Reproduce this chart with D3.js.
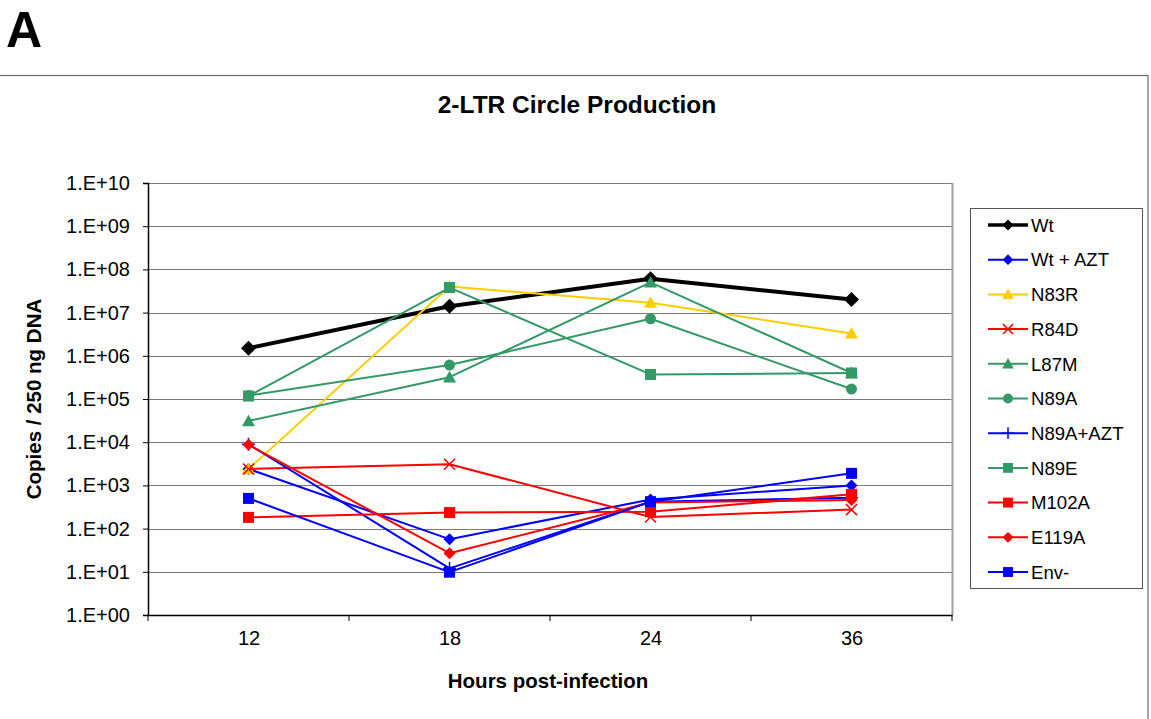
<!DOCTYPE html>
<html>
<head>
<meta charset="utf-8">
<script src="https://cdn.jsdelivr.net/npm/d3@7"></script>
<style>
  body { margin: 0; background: #fff; }
  text { font-family: "Liberation Sans", Arial, sans-serif; }
</style>
</head>
<body>
<div id="chart"></div>
<script>
// hours post-infection (categories)
const hours = ["12", "18", "24", "36"];

// copies / 250 ng DNA
const wt      = [1.5e6, 1.4e7, 6.1e7, 2.0e7];
const wtAzt   = [2.4e3, 57, 470, 1.0e3];
const n83r    = [2.4e3, 4.0e7, 1.7e7, 3.3e6];
const r84d    = [2.4e3, 3.1e3, 185, 275];
const l87m    = [3.1e4, 3.2e5, 5.0e7, 4.0e5];
const n89a    = [1.2e5, 6.1e5, 7.2e6, 1.7e5];
const n89aAzt = [9.0e3, 12, 420, 520];
const n89e    = [1.17e5, 3.8e7, 3.7e5, 4.0e5];
const m102a   = [182, 235, 245, 620];
const e119a   = [8.7e3, 27, 400, 460];
const envNeg  = [500, 9.8, 420, 1.9e3];

const yTicks = [1, 10, 1e2, 1e3, 1e4, 1e5, 1e6, 1e7, 1e8, 1e9, 1e10];

const series = [
  { name: "Wt",        values: wt,      color: "#000000", marker: "diamond", width: 4, size: 7.5 },
  { name: "Wt + AZT",  values: wtAzt,   color: "#0000ff", marker: "diamond", width: 2, size: 6 },
  { name: "N83R",      values: n83r,    color: "#ffcc00", marker: "triangle", width: 2, size: 6.5 },
  { name: "R84D",      values: r84d,    color: "#ff0000", marker: "cross", width: 2, size: 5.5 },
  { name: "L87M",      values: l87m,    color: "#339966", marker: "triangle", width: 2, size: 6.5 },
  { name: "N89A",      values: n89a,    color: "#339966", marker: "circle", width: 2, size: 5.5 },
  { name: "N89A+AZT",  values: n89aAzt, color: "#0000ff", marker: "plus", width: 2, size: 6.5 },
  { name: "N89E",      values: n89e,    color: "#339966", marker: "square", width: 2, size: 5.5 },
  { name: "M102A",     values: m102a,   color: "#ff0000", marker: "square", width: 2, size: 5.5 },
  { name: "E119A",     values: e119a,   color: "#ff0000", marker: "diamond", width: 2, size: 6 },
  { name: "Env-",      values: envNeg,  color: "#0000ff", marker: "square", width: 2, size: 5.5 }
];

const W = 1151, H = 719;
const plot = { left: 148, right: 952, top: 183, bottom: 615 };

const svg = d3.select("#chart")
  .append("svg")
  .attr("width", W)
  .attr("height", H);

// panel letter
svg.append("text")
  .attr("x", 6)
  .attr("y", 47)
  .attr("font-size", 50)
  .attr("font-weight", "bold")
  .text("A");

// chart frame
svg.append("rect")
  .attr("x", -2)
  .attr("y", 75.5)
  .attr("width", 1150)
  .attr("height", 700)
  .attr("fill", "none")
  .attr("stroke", "#6b6b6b")
  .attr("stroke-width", 1.2);

svg.append("text")
  .attr("x", 577)
  .attr("y", 113)
  .attr("text-anchor", "middle")
  .attr("font-size", 24.5)
  .attr("font-weight", "bold")
  .text("2-LTR Circle Production");

const xScale = d3.scalePoint()
  .domain(hours)
  .range([plot.left, plot.right])
  .padding(0.5);

const yScale = d3.scaleLog()
  .domain([1, 1e10])
  .range([plot.bottom, plot.top]);

const fmt = d => "1.E+" + String(Math.round(Math.log10(d))).padStart(2, "0");

// gridlines
svg.append("g")
  .selectAll("line")
  .data(yTicks)
  .enter().append("line")
  .attr("x1", plot.left)
  .attr("x2", plot.right)
  .attr("y1", d => Math.round(yScale(d)) + 0.5)
  .attr("y2", d => Math.round(yScale(d)) + 0.5)
  .attr("stroke", "#7a7a7a")
  .attr("stroke-width", 1);

// plot area right border (gray)
svg.append("line")
  .attr("x1", plot.right + 0.5).attr("x2", plot.right + 0.5)
  .attr("y1", plot.top).attr("y2", plot.bottom)
  .attr("stroke", "#a0a0a0")
  .attr("stroke-width", 2);

// y axis
const yAxis = svg.append("g")
  .attr("transform", `translate(${plot.left},0)`)
  .call(d3.axisLeft(yScale).tickValues(yTicks).tickFormat(fmt).tickSize(5).tickPadding(13));
yAxis.select(".domain").attr("stroke", "#000").attr("stroke-width", 1.5);
yAxis.selectAll(".tick line").attr("stroke", "#000");
yAxis.selectAll(".tick text")
  .attr("font-size", 20)
  .attr("font-family", "Liberation Sans, Arial, sans-serif")
  .attr("fill", "#000");

// x axis: labels centred in each band, tick marks on band edges
const step = xScale.step();
const xAxis = svg.append("g")
  .attr("transform", `translate(0,${plot.bottom})`)
  .call(d3.axisBottom(xScale).tickSize(0).tickPadding(16));
xAxis.select(".domain").attr("stroke", "#000").attr("stroke-width", 1.5);
xAxis.selectAll(".tick text")
  .attr("font-size", 20)
  .attr("font-family", "Liberation Sans, Arial, sans-serif")
  .attr("fill", "#000");
xAxis.selectAll(".edge")
  .data(hours.concat(["end"]))
  .enter().append("line")
  .attr("class", "edge")
  .attr("x1", (d, i) => plot.left + i * step)
  .attr("x2", (d, i) => plot.left + i * step)
  .attr("y1", 0)
  .attr("y2", 6)
  .attr("stroke", "#000");

// axis titles
svg.append("text")
  .attr("transform", `translate(41,${(plot.top + plot.bottom) / 2}) rotate(-90)`)
  .attr("text-anchor", "middle")
  .attr("font-size", 20.5)
  .attr("font-weight", "bold")
  .text("Copies / 250 ng DNA");

svg.append("text")
  .attr("x", 548)
  .attr("y", 688)
  .attr("text-anchor", "middle")
  .attr("font-size", 20.5)
  .attr("font-weight", "bold")
  .text("Hours post-infection");

// marker drawing
function drawMarker(g, type, color, r) {
  if (type === "diamond") {
    g.append("path").attr("d", `M0,${-r}L${r},0L0,${r}L${-r},0Z`).attr("fill", color);
  } else if (type === "triangle") {
    g.append("path").attr("d", `M0,${-r}L${r},${r * 0.8}L${-r},${r * 0.8}Z`).attr("fill", color);
  } else if (type === "square") {
    g.append("rect").attr("x", -r).attr("y", -r).attr("width", 2 * r).attr("height", 2 * r).attr("fill", color);
  } else if (type === "circle") {
    g.append("circle").attr("r", r).attr("fill", color);
  } else if (type === "cross") {
    g.append("path").attr("d", `M${-r},${-r}L${r},${r}M${-r},${r}L${r},${-r}`)
      .attr("stroke", color).attr("stroke-width", 1.5).attr("fill", "none");
  } else if (type === "plus") {
    g.append("path").attr("d", `M${-r},0L${r},0M0,${-r}L0,${r}`)
      .attr("stroke", color).attr("stroke-width", 1.5).attr("fill", "none");
  }
}

const line = d3.line()
  .x((d, i) => xScale(hours[i]))
  .y(d => yScale(d));

series.forEach(s => {
  const g = svg.append("g").attr("class", "series");
  g.append("path")
    .attr("d", line(s.values))
    .attr("fill", "none")
    .attr("stroke", s.color)
    .attr("stroke-width", s.width)
    .attr("stroke-linejoin", "round");
  s.values.forEach((v, i) => {
    const m = g.append("g").attr("transform", `translate(${xScale(hours[i])},${yScale(v)})`);
    drawMarker(m, s.marker, s.color, s.size);
  });
});

// legend
const legend = svg.append("g");
legend.append("rect")
  .attr("x", 970.5)
  .attr("y", 208.5)
  .attr("width", 172)
  .attr("height", 380)
  .attr("fill", "#fff")
  .attr("stroke", "#555")
  .attr("stroke-width", 1);

series.forEach((s, i) => {
  const y = 225 + i * 34.7;
  const item = legend.append("g").attr("transform", `translate(0,${y})`);
  item.append("line")
    .attr("x1", 988).attr("x2", 1028)
    .attr("y1", 0).attr("y2", 0)
    .attr("stroke", s.color)
    .attr("stroke-width", s.width === 4 ? 3.5 : 2);
  const m = item.append("g").attr("transform", "translate(1008,0)");
  drawMarker(m, s.marker, s.color, s.marker === "diamond" && s.width === 4 ? 5.5 : s.size * 0.9);
  item.append("text")
    .attr("x", 1031)
    .attr("y", 0)
    .attr("dy", "0.36em")
    .attr("font-size", 18.6)
    .text(s.name);
});
</script>
</body>
</html>
